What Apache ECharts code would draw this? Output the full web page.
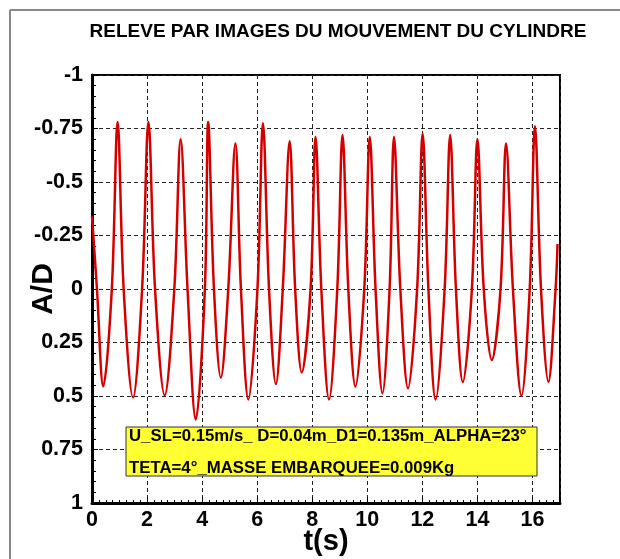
<!DOCTYPE html>
<html>
<head>
<meta charset="utf-8">
<script src="https://cdn.jsdelivr.net/npm/echarts@6/dist/echarts.min.js"></script>
<style>
html,body{margin:0;padding:0;background:#fff;}
#chart{width:620px;height:559px;}
</style>
</head>
<body>
<div id="chart"></div>
<script>
// Time (s)
var tSec = [0, 0.18, 0.41, 0.72, 0.93, 1.15, 1.49, 1.82, 2.05, 2.29, 2.64, 2.99, 3.22, 3.47, 3.77, 4.10, 4.22, 4.43, 4.68, 4.95,
  5.21, 5.41, 5.68, 6.01, 6.21, 6.43, 6.68, 6.93, 7.18, 7.38, 7.62, 7.94, 8.12, 8.33, 8.61, 8.91, 9.10, 9.31, 9.57, 9.89,
  10.09, 10.30, 10.55, 10.81, 10.97, 11.20, 11.48, 11.81, 12.01, 12.22, 12.48, 12.81, 13.01, 13.22, 13.47, 13.80, 14.00, 14.23,
  14.52, 14.84, 15.04, 15.29, 15.60, 15.90, 16.09, 16.31, 16.58, 16.84, 16.91];
// A/D
var aOverD = [-0.34, 0, 0.455, 0, -0.78, 0, 0.507, 0, -0.78, 0, 0.497, 0, -0.70, 0, 0.61, 0, -0.78, 0, 0.414, 0,
  -0.68, 0, 0.516, 0, -0.775, 0, 0.444, 0, -0.69, 0, 0.39, 0, -0.71, 0, 0.516, 0, -0.72, 0, 0.456, 0,
  -0.71, 0, 0.487, 0, -0.71, 0, 0.464, 0, -0.725, 0, 0.516, 0, -0.72, 0, 0.435, 0, -0.70, 0,
  0.332, 0, -0.68, 0, 0.499, 0, -0.76, 0, 0.433, 0, -0.21];

var titleText = 'RELEVE PAR IMAGES DU MOUVEMENT DU CYLINDRE';
var xName = 't(s)';
var yName = 'A/D';
var noteLine1 = 'U_SL=0.15m/s_ D=0.04m_D1=0.135m_ALPHA=23°';
var noteLine2 = 'TETA=4°_MASSE EMBARQUEE=0.009Kg';

var points = tSec.map(function (t, i) { return [t, aOverD[i]]; });

var FONT = 'Liberation Sans, Arial, sans-serif';
var chart = echarts.init(document.getElementById('chart'), null, {renderer: 'canvas'});
chart.setOption({
  backgroundColor: '#fff',
  animation: false,
  title: {
    text: titleText, left: 333, top: 17, textAlign: 'center',
    textStyle: {fontFamily: FONT, fontWeight: 'bold', fontSize: 19, color: '#000'}
  },
  grid: {left: 92, right: 60, top: 75, bottom: 56, outerBoundsMode: 'none', containLabel: false,
    show: true, borderColor: '#000', borderWidth: 2, backgroundColor: 'transparent'},
  xAxis: {
    type: 'value', min: 0, max: 17, interval: 2,
    name: xName, nameLocation: 'middle', nameGap: 24, nameMoveOverlap: false,
    nameTextStyle: {fontFamily: FONT, fontWeight: 'bold', fontSize: 29, color: '#000', verticalAlign: 'top'},
    axisLine: {show: true, onZero: false, lineStyle: {color: '#000', width: 3}},
    axisTick: {show: true, inside: true, length: 6, lineStyle: {color: '#000'}},
    minorTick: {show: true, splitNumber: 8, length: 3, lineStyle: {color: '#000'}},
    axisLabel: {fontFamily: FONT, fontWeight: 'bold', fontSize: 21.5, color: '#000', margin: 6, showMaxLabel: false},
    splitLine: {show: true, lineStyle: {color: '#222', type: [4, 3], width: 1}}
  },
  yAxis: {
    type: 'value', min: -1, max: 1, interval: 0.25, inverse: true,
    name: yName, nameLocation: 'middle', nameGap: 33, nameRotate: 90, nameMoveOverlap: false,
    nameTextStyle: {fontFamily: FONT, fontWeight: 'bold', fontSize: 30, color: '#000', verticalAlign: 'bottom'},
    axisLine: {show: true, onZero: false, lineStyle: {color: '#000', width: 3}},
    axisTick: {show: true, inside: true, length: 6, lineStyle: {color: '#000'}},
    minorTick: {show: true, splitNumber: 5, length: 4, lineStyle: {color: '#000'}},
    axisLabel: {fontFamily: FONT, fontWeight: 'bold', fontSize: 21.5, color: '#000', margin: 9},
    splitLine: {show: true, lineStyle: {color: '#222', type: [4, 3], width: 1}}
  },
  series: [{
    type: 'line', data: points, smooth: 0.35, showSymbol: false,
    lineStyle: {color: '#d40000', width: 2.5}, z: 3
  }],
  graphic: [
    {type: 'line', shape: {x1: 10, y1: 10, x2: 10, y2: 559}, style: {stroke: '#888', lineWidth: 2}},
    {type: 'line', shape: {x1: 10, y1: 10, x2: 620, y2: 10}, style: {stroke: '#888', lineWidth: 2}},
    {type: 'rect', shape: {x: 126, y: 427, width: 411, height: 49}, style: {fill: '#ffff33', stroke: '#333', lineWidth: 1}, z: 10},
    {type: 'text', x: 129, y: 436, style: {text: noteLine1, fontFamily: FONT, fontWeight: 'bold', fontSize: 16.8, fill: '#000', verticalAlign: 'middle'}, z: 11},
    {type: 'text', x: 129, y: 468, style: {text: noteLine2, fontFamily: FONT, fontWeight: 'bold', fontSize: 16.8, fill: '#000', verticalAlign: 'middle'}, z: 11}
  ]
});
</script>
</body>
</html>
